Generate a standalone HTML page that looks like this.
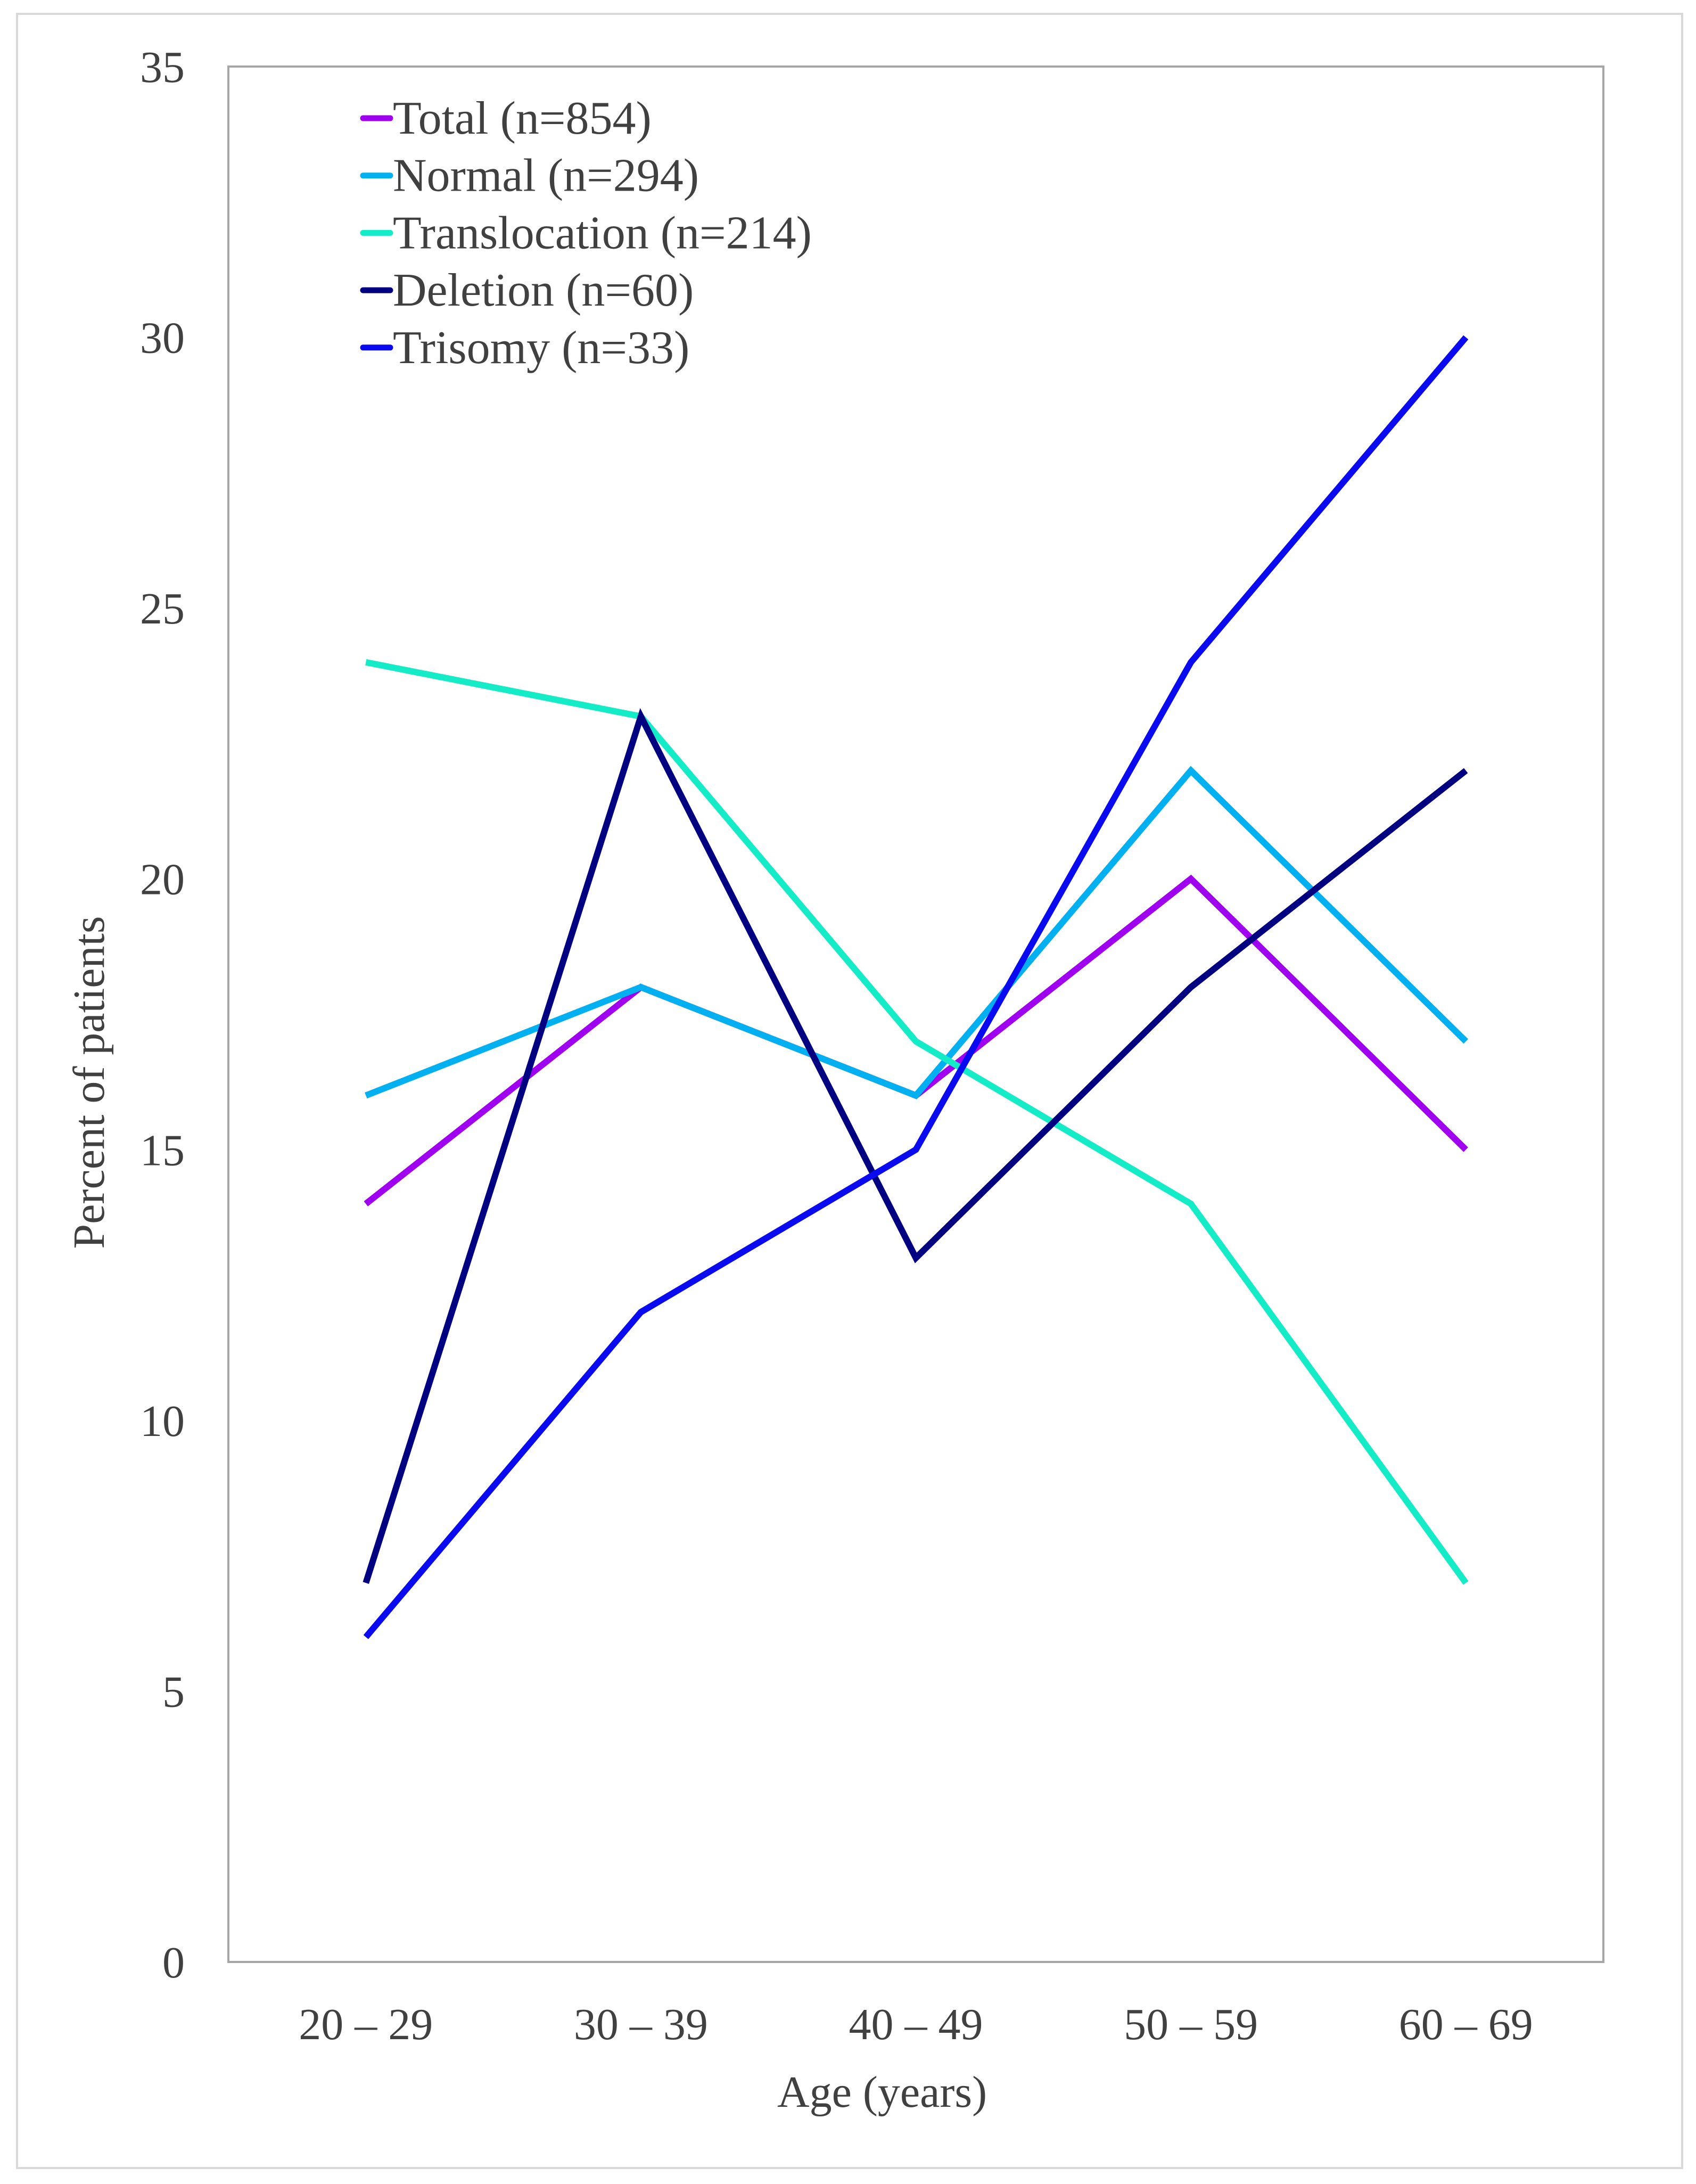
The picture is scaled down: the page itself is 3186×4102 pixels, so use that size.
<!DOCTYPE html>
<html><head><meta charset="utf-8"><style>
html,body{margin:0;padding:0;background:#fff}
svg{display:block}
text{font-family:"Liberation Serif",serif;fill:#404040}
</style></head><body>
<svg id="chart" width="3186" height="4102" viewBox="0 0 3186 4102" xmlns="http://www.w3.org/2000/svg">
<rect x="32" y="26" width="3128" height="4046" fill="#fff" stroke="#d9d9d9" stroke-width="4"/>
<rect x="429" y="125" width="2583" height="3560" fill="none" stroke="#a6a6a6" stroke-width="4"/>
<g id="yticks"></g><g id="xticks"></g><g id="series"></g><g id="legend"></g>
<text x="1657" y="3957" font-size="84" text-anchor="middle">Age (years)</text>
<text transform="translate(195,2033) rotate(-90)" font-size="84" text-anchor="middle">Percent of patients</text>
</svg>
<script>
const categories = ["20 – 29","30 – 39","40 – 49","50 – 59","60 – 69"];
const yTicks = [0,5,10,15,20,25,30,35];
const seriesNames = ["Total (n=854)","Normal (n=294)","Translocation (n=214)","Deletion (n=60)","Trisomy (n=33)"];
const totalValues = [14,18,16,20,15];
const normalValues = [16,18,16,22,17];
const translocationValues = [24,23,17,14,7];
const deletionValues = [7,23,13,18,22];
const trisomyValues = [6,12,15,24,30];
const seriesColors = ["#a000f0","#00b0f0","#14ecc8","#000080","#0a0af0"];

const NS="http://www.w3.org/2000/svg";
const L=429,R=3012,T=125,B=3685,YMAX=35;
const band=(R-L)/categories.length;
function xPos(i){return L+band*(i+0.5);}
function yPos(v){return B-(v/YMAX)*(B-T);}
function mk(tag,attrs,parent){const e=document.createElementNS(NS,tag);for(const k in attrs)e.setAttribute(k,attrs[k]);parent.appendChild(e);return e;}

const yg=document.getElementById('yticks');
yTicks.forEach(v=>{
  const t=mk('text',{x:347,y:yPos(v)+29,'font-size':84,'text-anchor':'end'},yg);
  
  
  t.textContent=v;
});
const xg=document.getElementById('xticks');
categories.forEach((c,i)=>{
  const t=mk('text',{x:xPos(i),y:3830,'font-size':84,'text-anchor':'middle'},xg);
  
  
  t.textContent=c;
});

const allSeries=[totalValues,normalValues,translocationValues,deletionValues,trisomyValues];
const drawOrder=[0,1,2,3,4];
const sg=document.getElementById('series');
drawOrder.forEach(si=>{
  const pts=allSeries[si].map((v,i)=>xPos(i).toFixed(1)+','+yPos(v).toFixed(1)).join(' ');
  const p=mk('polyline',{points:pts,fill:'none',stroke:seriesColors[si],'stroke-width':12,'stroke-linejoin':'miter'},sg);
  
  
});

const lg=document.getElementById('legend');
seriesNames.forEach((n,i)=>{
  const y=222+i*107.7;
  const g=mk('g',{},lg);
  
  
  mk('line',{x1:682,x2:733,y1:y,y2:y,stroke:seriesColors[i],'stroke-width':11,'stroke-linecap':'round'},g);
  const t=mk('text',{x:738,y:y+29,'font-size':88},g);
  t.textContent=n;
});
</script>
</body></html>
